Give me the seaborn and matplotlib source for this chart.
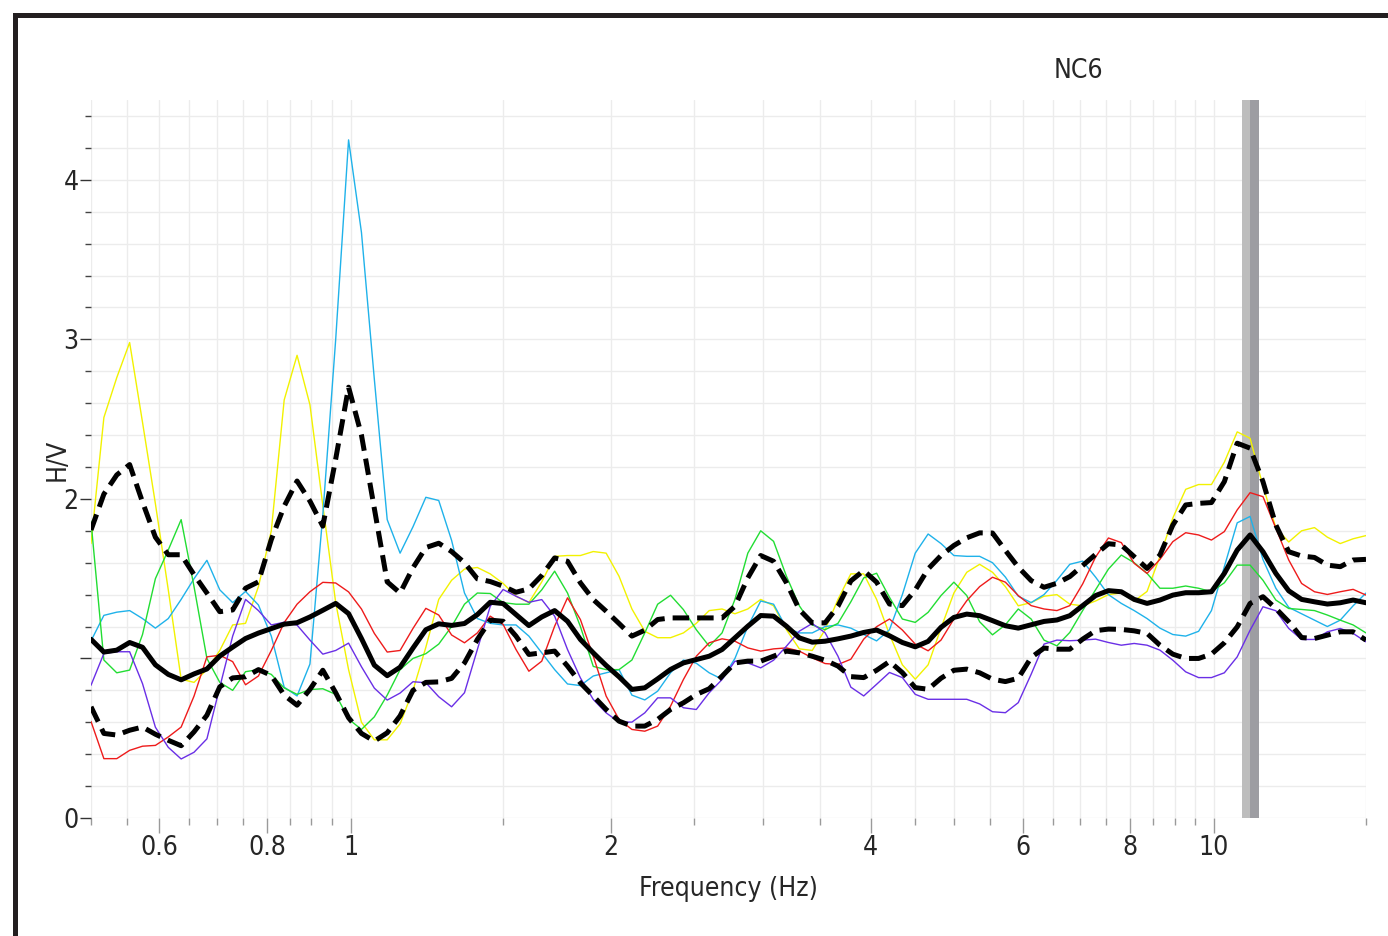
import numpy as np
import pandas as pd
import matplotlib
matplotlib.use("Agg")
import matplotlib.pyplot as plt
from matplotlib.ticker import FixedLocator, FixedFormatter, NullFormatter, MultipleLocator
from matplotlib.patches import Rectangle
import seaborn as sns

# Frequency sampling: 100 log-spaced points between 0.5 and 15 Hz
freq = np.geomspace(0.5, 15.0, 100)

# H/V ratio of each time window
yellow_hv = [1.72, 2.51, 2.76, 2.98, 2.48, 1.97, 1.43, 0.87, 0.85, 0.93,
             1.05, 1.21, 1.22, 1.45, 1.80, 2.62, 2.90, 2.59, 1.96, 1.35,
             0.93, 0.60, 0.49, 0.49, 0.59, 0.80, 1.07, 1.37, 1.49, 1.56,
             1.57, 1.53, 1.47, 1.39, 1.35, 1.48, 1.64, 1.645, 1.645, 1.67,
             1.66, 1.515, 1.31, 1.17, 1.13, 1.13, 1.16, 1.22, 1.30, 1.31,
             1.28, 1.31, 1.37, 1.33, 1.18, 1.06, 1.05, 1.18, 1.37, 1.53,
             1.53, 1.37, 1.15, 0.96, 0.87, 0.96, 1.19, 1.41, 1.54, 1.59,
             1.54, 1.45, 1.33, 1.35, 1.39, 1.40, 1.34, 1.33, 1.36, 1.40,
             1.41, 1.36, 1.42, 1.64, 1.88, 2.06, 2.09, 2.09, 2.23, 2.42,
             2.38, 2.08, 1.82, 1.73, 1.80, 1.82, 1.76, 1.72, 1.75, 1.77]

cyan_hv = [1.11, 1.27, 1.29, 1.30, 1.25, 1.19, 1.25, 1.37, 1.50, 1.615,
           1.43, 1.35, 1.42, 1.335, 1.14, 0.82, 0.765, 0.965, 1.90, 3.00,
           4.25, 3.67, 2.75, 1.87, 1.66, 1.825, 2.01, 1.99, 1.74, 1.41,
           1.25, 1.22, 1.21, 1.21, 1.14, 1.035, 0.93, 0.84, 0.83, 0.89,
           0.91, 0.93, 0.77, 0.74, 0.795, 0.91, 0.99, 0.97, 0.91, 0.87,
           1.00, 1.20, 1.36, 1.34, 1.19, 1.16, 1.16, 1.20, 1.21, 1.19,
           1.15, 1.11, 1.18, 1.40, 1.66, 1.78, 1.72, 1.645, 1.64, 1.64,
           1.60, 1.51, 1.39, 1.35, 1.40, 1.49, 1.59, 1.61, 1.51, 1.40,
           1.345, 1.30, 1.25, 1.19, 1.15, 1.14, 1.17, 1.30, 1.575, 1.85,
           1.89, 1.62, 1.44, 1.32, 1.28, 1.24, 1.20, 1.24, 1.33, 1.41]

green_hv = [1.86, 0.99, 0.91, 0.927, 1.15, 1.50, 1.68, 1.87, 1.45, 1.00,
            0.85, 0.80, 0.917, 0.93, 0.90, 0.815, 0.775, 0.805, 0.81, 0.775,
            0.62, 0.555, 0.634, 0.77, 0.93, 1.00, 1.03, 1.09, 1.20, 1.34,
            1.41, 1.407, 1.35, 1.34, 1.34, 1.43, 1.547, 1.41, 1.20, 0.95,
            0.93, 0.93, 0.99, 1.16, 1.34, 1.396, 1.306, 1.18, 1.077, 1.16,
            1.37, 1.66, 1.80, 1.734, 1.515, 1.33, 1.21, 1.18, 1.22, 1.355,
            1.505, 1.534, 1.383, 1.247, 1.226, 1.289, 1.394, 1.478, 1.394, 1.23,
            1.148, 1.211, 1.31, 1.247, 1.115, 1.079, 1.163, 1.30, 1.43, 1.56,
            1.648, 1.60, 1.533, 1.44, 1.44, 1.454, 1.44, 1.418, 1.474, 1.585,
            1.585, 1.49, 1.366, 1.313, 1.307, 1.30, 1.272, 1.24, 1.21, 1.16]

red_hv = [0.605, 0.372, 0.372, 0.424, 0.45, 0.455, 0.508, 0.57, 0.764, 1.01,
          1.02, 0.98, 0.835, 0.89, 1.05, 1.225, 1.34, 1.418, 1.477, 1.473,
          1.417, 1.31, 1.157, 1.04, 1.05, 1.188, 1.314, 1.272, 1.147, 1.098,
          1.16, 1.265, 1.213, 1.056, 0.92, 0.983, 1.202, 1.38, 1.244, 1.014,
          0.764, 0.618, 0.555, 0.544, 0.576, 0.701, 0.868, 1.014, 1.098, 1.123,
          1.108, 1.066, 1.046, 1.06, 1.066, 1.046, 1.004, 0.968, 0.962, 0.995,
          1.121, 1.199, 1.247, 1.178, 1.09, 1.048, 1.115, 1.247, 1.362, 1.45,
          1.509, 1.478, 1.394, 1.331, 1.31, 1.30, 1.331, 1.467, 1.635, 1.755,
          1.726, 1.596, 1.533, 1.621, 1.732, 1.788, 1.774, 1.742, 1.795, 1.931,
          2.039, 2.014, 1.816, 1.617, 1.47, 1.418, 1.401, 1.418, 1.433, 1.397]

purple_hv = [0.832, 1.031, 1.042, 1.042, 0.842, 0.569, 0.443, 0.37, 0.412, 0.496,
             0.82, 1.14, 1.37, 1.30, 1.21, 1.227, 1.209, 1.115, 1.027, 1.05,
             1.096, 0.948, 0.814, 0.739, 0.783, 0.854, 0.848, 0.76, 0.697, 0.785,
             1.056, 1.327, 1.432, 1.39, 1.352, 1.369, 1.265, 1.056, 0.878, 0.743,
             0.659, 0.601, 0.601, 0.659, 0.753, 0.753, 0.691, 0.68, 0.785, 0.868,
             0.983, 0.972, 0.941, 0.989, 1.077, 1.171, 1.219, 1.161, 1.014, 0.82,
             0.765, 0.838, 0.912, 0.88, 0.775, 0.744, 0.744, 0.744, 0.744, 0.715,
             0.666, 0.66, 0.723, 0.901, 1.09, 1.115, 1.111, 1.115, 1.121, 1.10,
             1.083, 1.094, 1.083, 1.052, 0.989, 0.916, 0.88, 0.88, 0.91, 1.01,
             1.177, 1.324, 1.299, 1.188, 1.119, 1.119, 1.167, 1.188, 1.157, 1.104]

# Average curve and its standard-deviation envelope
mean_hv = [1.12, 1.04, 1.052, 1.10, 1.07, 0.96, 0.90, 0.866, 0.903, 0.934,
           1.015, 1.071, 1.125, 1.159, 1.187, 1.215, 1.224, 1.26, 1.302, 1.345,
           1.281, 1.125, 0.958, 0.892, 0.945, 1.065, 1.18, 1.217, 1.207, 1.219,
           1.275, 1.352, 1.344, 1.275, 1.206, 1.26, 1.30, 1.233, 1.119, 1.035,
           0.956, 0.885, 0.806, 0.816, 0.872, 0.931, 0.972, 0.993, 1.014, 1.056,
           1.129, 1.202, 1.269, 1.265, 1.202, 1.129, 1.102, 1.108, 1.123, 1.14,
           1.163, 1.178, 1.142, 1.10, 1.073, 1.107, 1.195, 1.257, 1.278, 1.268,
           1.237, 1.205, 1.19, 1.211, 1.232, 1.241, 1.268, 1.331, 1.394, 1.425,
           1.418, 1.37, 1.345, 1.366, 1.397, 1.412, 1.412, 1.418, 1.533, 1.679,
           1.774, 1.669, 1.533, 1.424, 1.37, 1.355, 1.341, 1.349, 1.366, 1.349]

upper_hv = [1.805, 2.03, 2.15, 2.215, 1.98, 1.76, 1.65, 1.65, 1.525, 1.41,
            1.293, 1.304, 1.44, 1.48, 1.745, 1.954, 2.112, 1.986, 1.829, 2.25,
            2.70, 2.40, 1.94, 1.48, 1.41, 1.568, 1.695, 1.722, 1.67, 1.60,
            1.499, 1.482, 1.453, 1.415, 1.436, 1.52, 1.63, 1.609, 1.474, 1.369,
            1.296, 1.219, 1.14, 1.177, 1.244, 1.254, 1.254, 1.254, 1.254, 1.254,
            1.327, 1.505, 1.645, 1.609, 1.474, 1.306, 1.223, 1.223, 1.327, 1.486,
            1.551, 1.478, 1.341, 1.331, 1.429, 1.561, 1.645, 1.708, 1.756, 1.787,
            1.786, 1.677, 1.572, 1.488, 1.446, 1.471, 1.513, 1.582, 1.652, 1.719,
            1.711, 1.638, 1.564, 1.648, 1.836, 1.962, 1.972, 1.977, 2.108, 2.349,
            2.318, 2.108, 1.836, 1.669, 1.642, 1.633, 1.585, 1.575, 1.617, 1.621]

lower_hv = [0.697, 0.53, 0.52, 0.55, 0.57, 0.525, 0.487, 0.453, 0.54, 0.644,
            0.822, 0.878, 0.885, 0.93, 0.894, 0.77, 0.707, 0.806, 0.926, 0.785,
            0.628, 0.53, 0.482, 0.534, 0.64, 0.80, 0.85, 0.853, 0.875, 0.972,
            1.119, 1.24, 1.233, 1.14, 1.025, 1.035, 1.046, 0.952, 0.847, 0.764,
            0.68, 0.607, 0.576, 0.576, 0.618, 0.68, 0.722, 0.774, 0.81, 0.889,
            0.972, 0.983, 0.983, 1.014, 1.046, 1.035, 1.014, 0.989, 0.952, 0.886,
            0.88, 0.926, 0.981, 0.911, 0.817, 0.807, 0.876, 0.926, 0.933, 0.91,
            0.87, 0.855, 0.876, 1.006, 1.065, 1.058, 1.058, 1.121, 1.174, 1.184,
            1.182, 1.173, 1.157, 1.083, 1.027, 1.0, 1.0, 1.027, 1.098, 1.198,
            1.345, 1.387, 1.313, 1.23, 1.131, 1.125, 1.146, 1.167, 1.167, 1.115]

# Peak frequency and its deviation band (Hz)
peak_lo, peak_f0, peak_hi = 10.77, 11.02, 11.28

station = "NC6"
x_major = [0.6, 0.8, 1, 2, 4, 6, 8, 10]
x_major_labels = ["0.6", "0.8", "1", "2", "4", "6", "8", "10"]
x_minor = [0.5, 0.55, 0.65, 0.7, 0.75, 0.85, 0.9, 0.95, 1.5, 2.5, 3, 3.5,
           4.5, 5, 5.5, 6.5, 7, 7.5, 8.5, 9, 9.5, 15]
y_major = [0, 1, 2, 3, 4]
y_major_labels = ["0", "", "2", "3", "4"]

windows = {
    "w1": (yellow_hv, "#f2f200"),
    "w2": (cyan_hv, "#1fb2ea"),
    "w3": (green_hv, "#22dd33"),
    "w4": (red_hv, "#ee1b1b"),
    "w5": (purple_hv, "#6a2fe6"),
}

long_df = pd.concat(
    [pd.DataFrame({"freq": freq, "hv": vals, "window": name})
     for name, (vals, _) in windows.items()],
    ignore_index=True,
)
palette = {name: col for name, (_, col) in windows.items()}

sns.set_style("white")
plt.rcParams["font.family"] = ["Liberation Sans Narrow", "DejaVu Sans"]
plt.rcParams["font.stretch"] = "condensed"
FS = 19

W, H = 1388, 936
fig = plt.figure(figsize=(W / 100, H / 100), dpi=100)
ax = fig.add_axes([91 / W, 1 - 818 / H, 1275 / W, 718 / H])

# Deviation band around the peak frequency
ax.axvspan(peak_lo, peak_f0, color="#bdbdbd", lw=0, zorder=1.5)
ax.axvspan(peak_f0, peak_hi, color="#9d9da2", lw=0, zorder=1.5)

sns.lineplot(data=long_df, x="freq", y="hv", hue="window", palette=palette,
             estimator=None, linewidth=1.0, legend=False, ax=ax, zorder=3)

sns.lineplot(x=freq, y=mean_hv, color="black", linewidth=3.6,
             estimator=None, ax=ax, zorder=6)
for env in (upper_hv, lower_hv):
    sns.lineplot(x=freq, y=env, color="black", linewidth=3.6,
                 estimator=None, ax=ax, zorder=5)
    ax.lines[-1].set_dashes([3.3, 1.6])

ax.set_xscale("log")
ax.set_xlim(0.5, 15.0)
ax.set_ylim(0, 4.5)

ax.xaxis.set_major_locator(FixedLocator(x_major))
ax.xaxis.set_major_formatter(FixedFormatter(x_major_labels))
ax.xaxis.set_minor_locator(FixedLocator(x_minor))
ax.xaxis.set_minor_formatter(NullFormatter())
ax.yaxis.set_major_locator(FixedLocator(y_major))
ax.yaxis.set_major_formatter(FixedFormatter(y_major_labels))
ax.yaxis.set_minor_locator(MultipleLocator(0.2))

ax.grid(True, which="both", color="#ececec", linewidth=1.0)
ax.set_axisbelow(True)
for s in ax.spines.values():
    s.set_visible(False)

ax.tick_params(axis="x", which="major", length=11, width=1.0, color="#9a9a9a",
               labelsize=FS, pad=1.5, direction="out", bottom=True)
ax.tick_params(axis="x", which="minor", length=5, width=1.0, color="#9a9a9a",
               direction="out", bottom=True)
ax.tick_params(axis="y", which="major", length=8, width=1.0, color="#333333",
               labelsize=FS, pad=1, direction="out", left=True)
ax.tick_params(axis="y", which="minor", length=4, width=1.0, color="#444444",
               direction="out", left=True)

ax.set_xlabel("Frequency (Hz)", fontsize=FS)
ax.xaxis.set_label_coords(0.5, (818 - 876) / 718)
ax.set_ylabel("H/V", fontsize=FS)
ax.yaxis.set_label_coords((71 - 91) / 1275, (818 - 460) / 718)

ax.text((1078 - 91) / 1275, 1 + 29 / 718, station, ha="center", va="center",
        fontsize=FS, transform=ax.transAxes)

# Heavy outer frame, running off the right and bottom edges
fig.add_artist(Rectangle((14.5 / W, -0.2), 1.5, 1 - 14.5 / H + 0.2,
                         transform=fig.transFigure, fill=False,
                         edgecolor="#231f20", linewidth=3.6, clip_on=False))

fig.savefig("out.png", dpi=100, facecolor="white")
